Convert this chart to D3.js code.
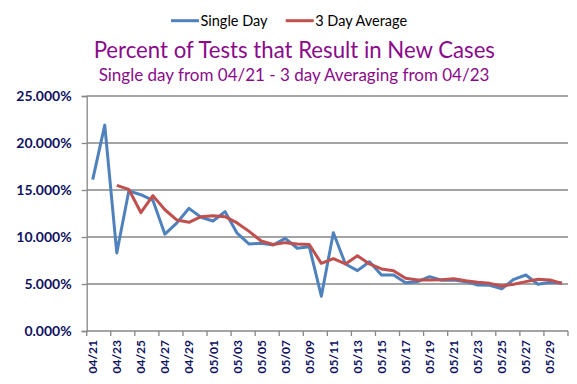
<!DOCTYPE html>
<html>
<head>
<meta charset="utf-8">
<script src="https://cdn.jsdelivr.net/npm/d3@7"></script>
<style>
  body { margin: 0; background: #fff; }
  svg { font-family: Lato, "Open Sans", sans-serif; }
</style>
</head>
<body>
<div id="chart"></div>
<script>
// data
var dates = ["04/21","04/22","04/23","04/24","04/25","04/26","04/27","04/28","04/29","04/30",
  "05/01","05/02","05/03","05/04","05/05","05/06","05/07","05/08","05/09","05/10",
  "05/11","05/12","05/13","05/14","05/15","05/16","05/17","05/18","05/19","05/20",
  "05/21","05/22","05/23","05/24","05/25","05/26","05/27","05/28","05/29","05/30"];

var singleDay = [16.1, 21.9, 8.3, 14.9, 14.5, 13.9, 10.3, 11.5, 13.05, 12.1,
  11.7, 12.7, 10.4, 9.25, 9.33, 9.15, 9.86, 8.8, 8.97, 3.7,
  10.46, 7.13, 6.42, 7.37, 5.96, 5.96, 5.14, 5.25, 5.78, 5.4,
  5.43, 5.25, 4.9, 4.86, 4.5, 5.5, 5.96, 4.97, 5.18, 5.1];

// 3 day average starts at 04/23
var threeDay = [null, null, 15.5, 15.07, 12.6, 14.4, 12.9, 11.8, 11.56, 12.16,
  12.27, 12.16, 11.5, 10.6, 9.57, 9.2, 9.4, 9.26, 9.2, 7.2,
  7.7, 7.13, 8.0, 7.13, 6.6, 6.42, 5.6, 5.43, 5.43, 5.45,
  5.56, 5.35, 5.18, 5.07, 4.79, 4.97, 5.25, 5.5, 5.43, 5.07];

var yTicks = [0, 5, 10, 15, 20, 25];

var svgWidth = 577, svgHeight = 384;
var margin = {top: 96, right: 9, bottom: 53, left: 86.7};
var width = svgWidth - margin.left - margin.right;
var height = svgHeight - margin.top - margin.bottom;

var svg = d3.select("#chart").append("svg")
  .attr("width", svgWidth)
  .attr("height", svgHeight);

var chartGroup = svg.append("g")
  .attr("transform", `translate(${margin.left}, ${margin.top})`);

var xScale = d3.scaleBand().domain(dates).range([0, width]).padding(0);
var yScale = d3.scaleLinear().domain([0, 25]).range([height, 0]);

var gridColor = "#868686";
var labelColor = "#0f1260";

// gridlines
chartGroup.selectAll(".grid")
  .data(yTicks.filter(d => d > 0))
  .enter()
  .append("line")
  .attr("x1", 0)
  .attr("x2", width)
  .attr("y1", d => yScale(d))
  .attr("y2", d => yScale(d))
  .attr("stroke", gridColor)
  .attr("stroke-width", 1.3);

// y axis
var leftAxis = d3.axisLeft(yScale)
  .tickValues(yTicks)
  .tickSize(5)
  .tickPadding(10)
  .tickFormat(d => d3.format(".3f")(d) + "%");

var yAxis = chartGroup.append("g").call(leftAxis);
yAxis.select(".domain").attr("stroke", gridColor).attr("stroke-width", 1.3);
yAxis.selectAll(".tick line").attr("stroke", gridColor).attr("stroke-width", 1.3);
yAxis.selectAll("text")
  .attr("fill", labelColor)
  .attr("font-size", "14px")
  .attr("font-weight", "bold")
  .attr("font-family", "Lato, sans-serif");

// x axis: ticks on category boundaries every 2 days
var xAxisGroup = chartGroup.append("g")
  .attr("transform", `translate(0, ${height})`);

xAxisGroup.append("line")
  .attr("x1", 0).attr("x2", width)
  .attr("y1", 0).attr("y2", 0)
  .attr("stroke", gridColor)
  .attr("stroke-width", 1.3);

var boundaries = d3.range(0, dates.length + 1, 2);
xAxisGroup.selectAll(".xtick")
  .data(boundaries)
  .enter()
  .append("line")
  .attr("x1", d => d * xScale.bandwidth())
  .attr("x2", d => d * xScale.bandwidth())
  .attr("y1", 0)
  .attr("y2", 5)
  .attr("stroke", gridColor)
  .attr("stroke-width", 1.3);

xAxisGroup.selectAll(".xlabel")
  .data(dates.filter((d, i) => i % 2 === 0))
  .enter()
  .append("text")
  .attr("transform", d => `translate(${xScale(d) + xScale.bandwidth() / 2 + 4.5}, 9) rotate(-90)`)
  .attr("text-anchor", "end")
  .attr("fill", labelColor)
  .attr("font-size", "12px")
  .attr("font-weight", "bold")
  .text(d => d);

// lines
var lineGen = d3.line()
  .defined(d => d != null)
  .x((d, i) => xScale(dates[i]) + xScale.bandwidth() / 2)
  .y(d => yScale(d));

chartGroup.append("path")
  .datum(singleDay)
  .attr("d", lineGen)
  .attr("fill", "none")
  .attr("stroke", "#4F81BD")
  .attr("stroke-width", 3)
  .attr("stroke-linejoin", "round");

chartGroup.append("path")
  .datum(threeDay)
  .attr("d", lineGen)
  .attr("fill", "none")
  .attr("stroke", "#C0504D")
  .attr("stroke-width", 3)
  .attr("stroke-linejoin", "round");

// titles
svg.append("text")
  .attr("x", 294.3)
  .attr("y", 57.5)
  .attr("text-anchor", "middle")
  .attr("fill", "#8B0A8B")
  .attr("font-size", "22.2px")
  .text("Percent of Tests that Result in New Cases");

svg.append("text")
  .attr("x", 294)
  .attr("y", 81)
  .attr("text-anchor", "middle")
  .attr("fill", "#8B0A8B")
  .attr("font-size", "17px")
  .text("Single day from 04/21 - 3 day Averaging from 04/23");

// legend
var legendItems = [
  {name: "Single Day", color: "#4F81BD", x: 171},
  {name: "3 Day Average", color: "#C0504D", x: 285.7}
];
var legend = svg.selectAll(".legend")
  .data(legendItems)
  .enter()
  .append("g")
  .attr("transform", d => `translate(${d.x}, 20.7)`);

legend.append("line")
  .attr("x1", 0).attr("x2", 28)
  .attr("y1", 0).attr("y2", 0)
  .attr("stroke", d => d.color)
  .attr("stroke-width", 3);

legend.append("text")
  .attr("x", 29.5)
  .attr("y", 5)
  .attr("fill", "#000")
  .attr("font-size", "14.5px")
  .text(d => d.name);
</script>
</body>
</html>
